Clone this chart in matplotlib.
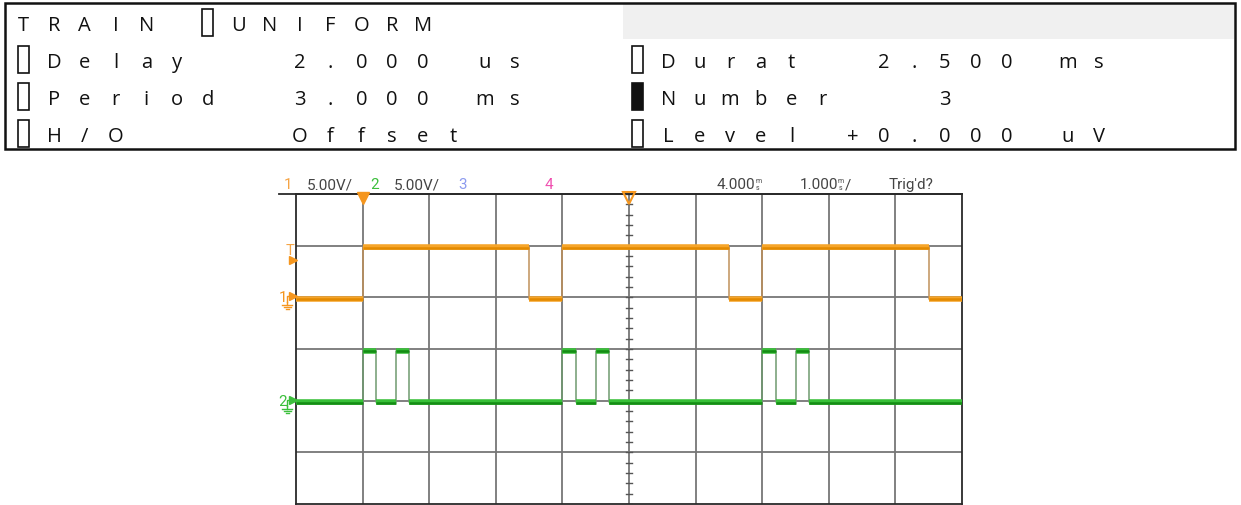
import numpy as np
import matplotlib.pyplot as plt
from matplotlib.patches import Rectangle
from matplotlib import font_manager

# LCD panel text, one character per cell ('□' hollow cursor box, '■' filled)
lcd_rows = [
    "TRAIN □UNIFORM",
    "□Delay   2.000 us   □Durat  2.500 ms",
    "□Period  3.000 ms   ■Number   3",
    "□H/O     Offset     □Level +0.000 uV",
]

# scope settings
ms_per_div = 1.0
t_delay = 4.0
volts_per_div = [5.0, 5.0]
ground_div = [4, 2]

# channel 1: pulse train, channel 2: double pulses
ch1_starts = [0.0, 3.0, 6.0]
ch1_width = 2.5
ch1_high = 5.0
ch2_starts = [0.0, 0.5, 3.0, 3.5, 6.0, 6.5]
ch2_width = 0.2
ch2_high = 5.0

names = {f.name for f in font_manager.fontManager.ttflist}
if 'Liberation Sans Narrow' in names:
    narrow, hsize = 'Liberation Sans Narrow', 12.5
elif 'Roboto' in names:
    narrow, hsize = 'Roboto', 11
else:
    narrow, hsize = 'DejaVu Sans', 10.2
lcd_font = 'Open Sans' if 'Open Sans' in names else 'DejaVu Sans'

fig = plt.figure(figsize=(12.41, 5.06), dpi=100)

# scope screen: 10 x 6 visible divisions
ax = fig.add_axes([296 / 1241, 1 - 505 / 506, 666 / 1241, 310 / 506])
t0 = t_delay - 5 * ms_per_div
t1 = t_delay + 5 * ms_per_div
ax.set_xlim(t0, t1)
ax.set_ylim(0, 6)
ax.set_xticks([])
ax.set_yticks([])
for s in ax.spines.values():
    s.set_color('#2a2a2a')
    s.set_linewidth(1.3)
for xv in np.arange(t0 + 1, t1):
    ax.axvline(xv, color='#767676', lw=1.3, zorder=1)
for yv in range(1, 6):
    ax.axhline(yv, color='#767676', lw=1.3, zorder=1)

# minor ticks on the centre vertical axis
for yv in np.arange(0, 6.01, 0.2):
    ax.plot([t_delay - 0.045, t_delay + 0.045], [yv, yv], color='#555', lw=1, zorder=1)


def square(starts, width, high):
    t = [t0]
    v = [0.0]
    for s in starts:
        t += [s, s + width]
        v += [high, 0.0]
    t.append(t1)
    v.append(0.0)
    return np.array(t), np.array(v)


traces = [
    (ch1_starts, ch1_width, ch1_high, '#f6a52a', '#e38a00', '#c0915a'),
    (ch2_starts, ch2_width, ch2_high, '#38c038', '#148c14', '#6f9a6f'),
]
for i, (starts, width, high, light, dark, edge) in enumerate(traces):
    t, v = square(starts, width, high)
    y = ground_div[i] + v / volts_per_div[i] - 0.03
    ax.plot(t, y, drawstyle='steps-post', color=edge, lw=1.1, zorder=3)
    ax.hlines(y[:-1], t[:-1], t[1:], color=light, lw=4, zorder=4)
    ax.hlines(y[:-1] - 0.01, t[:-1], t[1:], color=dark, lw=1.8, zorder=5)

# overlay in pixel coordinates for header panel and scope annotations
ov = fig.add_axes([0, 0, 1, 1])
ov.set_xlim(0, 1241)
ov.set_ylim(506, 0)
ov.axis('off')
ov.patch.set_alpha(0)

# LCD panel
ov.add_patch(Rectangle((623, 5), 611, 35, facecolor='#f0f0f0', edgecolor='none'))
ov.add_patch(Rectangle((5, 4), 1230, 146, facecolor='none', edgecolor='#111', lw=1.8))
cell_w = 30.72
for r, row in enumerate(lcd_rows):
    base = 31 + 36.9 * r
    for c, ch in enumerate(row):
        x = 23.4 + cell_w * c
        if ch == ' ':
            continue
        if ch in '□■':
            ov.add_patch(Rectangle((x - 5.5, base - 21), 11, 27,
                                   facecolor='#111' if ch == '■' else 'none',
                                   edgecolor='#111', lw=1.2))
        else:
            ov.text(x, base, ch, ha='center', va='baseline', fontsize=14.5,
                    family=lcd_font, color='#111')

# scope header bar
ov.plot([279, 962], [195, 195], color='#2a2a2a', lw=1.3)
hy = 189
hdr = [
    (284, '1', '#f5a445'), (307, '5.00V/', '#444'),
    (370, '2', '#3cbf3c'), (394, '5.00V/', '#444'),
    (458, '3', '#8d9bef'), (545, '4', '#f04fb0'),
    (717, '4.000', '#444'), (800, '1.000', '#444'),
    (889, "Trig'd?", '#444'),
]
for x, s, col in hdr:
    ov.text(x, hy, s, ha='left', va='baseline', fontsize=hsize, family=narrow, color=col)
for x, tail in [(755, ''), (838, '/')]:
    ov.text(x, hy - 6, 'm', fontsize=5, family=narrow, color='#444', ha='left', va='baseline')
    ov.text(x + 0.5, hy + 0.5, 's', fontsize=5, family=narrow, color='#444', ha='left', va='baseline')
    if tail:
        ov.text(x + 7, hy, tail, fontsize=hsize, family=narrow, color='#444', ha='left', va='baseline')

# trigger position markers
ov.plot(363, 199, marker='v', markersize=8, color='#f5961e', mec='#f5961e')
ov.plot(629, 199, marker='v', markersize=8, mfc='none', mec='#f5961e', mew=1.5)

# trigger level and channel ground markers
ov.text(290, 255, 'T', fontsize=10.5, family=narrow, color='#f5a445', ha='center', va='baseline')
ov.plot(293, 261, marker='>', markersize=6, color='#f5961e')
gnd = [(297, '1', '#f5961e'), (401, '2', '#3cbf3c')]
for gy, lab, col in gnd:
    ov.text(283, gy + 5, lab, fontsize=11, family=narrow, color=col, ha='center', va='baseline')
    ov.plot([287, 287, 291], [gy + 6, gy, gy], color=col, lw=1)
    ov.plot(293, gy, marker='>', markersize=6, color=col)
    ov.plot([287, 287], [gy + 6, gy + 9], color=col, lw=1)
    for k, w in enumerate([5, 3.5, 1.5]):
        ov.plot([287 - w, 287 + w], [gy + 9 + 2 * k, gy + 9 + 2 * k], color=col, lw=1)

fig.savefig('out.png', dpi=100)
